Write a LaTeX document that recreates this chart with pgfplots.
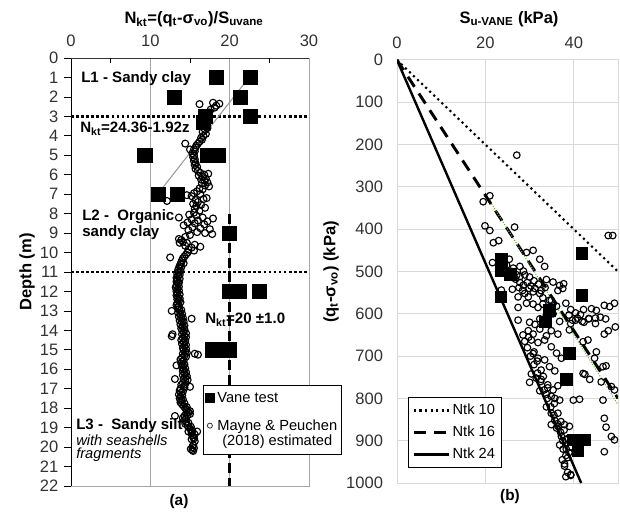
\documentclass[border=0pt]{standalone}
\usepackage{fontspec}
\setmainfont{Liberation Sans}
\usepackage{pgfplots}
\pgfplotsset{compat=1.18}

\definecolor{tickgray}{RGB}{50,50,50}
\definecolor{gridgray}{RGB}{217,217,217}
\definecolor{trendgreen}{RGB}{112,173,71}
\newcommand{\fs}[1]{\fontsize{#1}{#1}\selectfont}

\begin{document}
\begin{tikzpicture}
\useasboundingbox (0,0) rectangle (465pt,385.5pt);

% ---------------- (a) Nkt vs depth ----------------
\begin{axis}[
  scale only axis, at={(53.25pt,21pt)}, anchor=south west,
  width=178.5pt, height=321pt,
  xmin=0, xmax=30, ymin=0, ymax=22, y dir=reverse,
  xtick={0,10,20,30}, ytick={0,1,...,22},
  xticklabel pos=upper, ytick pos=left,
  xmajorgrids, major grid style={gray!70, line width=0.6pt},
  tick align=outside, major tick length=5pt,
  xtick style={draw=none}, ytick style={black, line width=0.6pt},
  axis line style={gray!70, line width=0.6pt},
  tick label style={font=\fs{12.4}, text=tickgray},
  yticklabel style={xshift=-1pt},
  /pgf/number format/assume math mode=true,
  legend style={at={(axis cs:16.65,16.8)}, anchor=north west, draw=black,
    line width=0.6pt, font=\fs{11}, fill=white, inner xsep=1pt, inner ysep=3pt,
    row sep=8pt, cells={anchor=west, align=center}},
]
% legend
\addlegendimage{legend image code/.code={\fill[black] (-2pt,-3.4pt) rectangle (4.8pt,3.4pt);}}
\addlegendentry{Vane test}
\addlegendimage{legend image code/.code={\draw[black!80, line width=0.6pt] (1.5pt,6pt) circle (1.9pt);}}
\addlegendentry{Mayne \& Peuchen\\(2018) estimated}

% layer boundaries and trend lines
\addplot[forget plot, black, line width=2.2pt, dash pattern=on 2pt off 1.8pt] coordinates {(0,3) (30,3)};
\addplot[forget plot, black, line width=2.2pt, dash pattern=on 2pt off 1.8pt] coordinates {(0,11) (30,11)};
\addplot[forget plot, black, line width=2pt, dash pattern=on 7.5pt off 3.5pt] coordinates {(20,8) (20,22)};
\addplot[forget plot, gray!80, line width=0.8pt] coordinates {(22.06,1.2) (10.92,7)};

% Mayne & Peuchen (2018) estimated
\addplot[forget plot, only marks, mark=o, mark size=2.6pt, black, mark options={line width=0.85pt}] coordinates {
(16.2,2.37) (17.9,2.30) (18.3,2.45) (18.7,2.35) (18.1,2.55) (17.6,2.65)
(17.4,2.8) (17.0,2.9) (17.3,3.0) (16.9,3.1) (17.1,3.2) (16.7,3.3) (17.0,3.4) (16.8,3.5)
(17.2,3.6) (16.9,3.7) (16.6,3.8) (17.0,3.9) (16.7,4.0) (16.4,4.1) (16.5,4.2) (14.4,4.4)
(16.2,4.3) (16.0,4.4) (15.8,4.5) (15.0,4.7) (15.7,4.6) (15.5,4.7) (15.6,4.8) (15.3,4.9)
(15.5,5.0) (15.4,5.1) (15.6,5.2) (15.5,5.3) (15.7,5.4) (15.6,5.5) (15.9,5.6) (15.7,5.7)
(16.0,5.8) (16.3,5.9) (17.3,5.95) (16.8,6.0) (16.1,6.05) (16.6,6.1) (17.0,6.2) (16.4,6.25)
(16.8,6.3) (17.2,6.4) (16.5,6.45) (16.9,6.55) (17.4,6.6) (16.2,6.7) (16.6,6.75) (15.9,6.85)
(15.5,6.95) (16.3,7.0) (14.6,7.05) (15.2,7.1) (17.1,7.2) (16.7,7.25) (15.7,7.3) (12.1,7.35)
(16.0,7.4) (15.4,7.5) (16.4,7.55) (15.8,7.6) (16.9,7.7) (15.6,7.75) (16.2,7.85) (15.5,7.95)
(14.9,8.05) (15.8,8.1) (13.6,8.2) (16.6,8.2) (17.9,8.25) (15.2,8.3) (16.0,8.35) (17.2,8.4)
(14.7,8.45) (15.6,8.5) (16.8,8.55) (14.2,8.6) (15.3,8.7) (16.3,8.75) (17.5,8.8) (14.8,8.85)
(15.9,8.95) (17.8,9.05) (16.9,9.0) (15.0,9.1) (14.4,9.2) (13.6,9.3) (13.9,9.35) (14.1,9.45)
(13.7,9.5) (14.6,9.5) (15.6,9.6) (14.4,9.65) (16.3,9.7) (15.2,9.75) (14.8,9.85) (15.5,9.9)
(14.7,10.0) (12.5,10.25) (14.5,10.1) (14.3,10.2) (14.1,10.3) (14.0,10.4)
(13.9,10.5) (13.8,10.6) (13.7,10.7) (13.6,10.8) (13.5,10.9) (13.6,11.0) (13.4,11.1) (13.5,11.2)
(13.3,11.3) (13.4,11.4) (13.3,11.5) (13.5,11.6) (13.3,11.7) (13.2,11.8) (13.4,11.9) (13.3,12.0)
(13.4,12.1) (13.3,12.2) (13.5,12.3) (13.4,12.4) (13.6,12.5) (13.4,12.6) (13.3,12.7) (13.5,12.8)
(13.6,12.9) (13.7,13.0) (13.5,13.1) (13.8,13.2) (13.6,13.3) (13.9,13.4) (13.7,13.5) (14.0,13.6)
(13.8,13.7) (14.1,13.8) (13.9,13.9) (14.0,14.0) (14.2,14.1) (14.0,14.2) (14.3,14.3) (14.1,14.4)
(13.9,14.5) (14.2,14.6) (14.0,14.7) (14.3,14.8) (14.1,14.9) (14.2,15.0) (14.4,15.1) (14.1,15.2)
(14.3,15.3) (14.0,15.4) (13.8,15.5) (14.0,15.6) (13.9,15.7) (14.1,15.8) (14.0,15.9) (14.2,16.0)
(14.1,16.1) (14.3,16.2) (14.1,16.3) (14.4,16.4) (14.2,16.5) (14.4,16.6) (14.1,16.7) (13.9,16.8)
(14.2,16.9) (13.8,17.0) (13.7,17.1) (13.9,17.2) (13.6,17.3) (13.8,17.4) (13.7,17.5) (13.9,17.6)
(13.8,17.7) (14.0,17.8) (14.2,17.9) (14.4,18.0) (14.6,18.1) (14.8,18.2) (14.5,18.3) (14.3,18.4)
(14.1,18.5) (14.3,18.6) (14.5,18.7) (14.4,18.8) (14.7,18.9) (14.9,19.0) (15.1,19.1) (14.8,19.2)
(15.2,19.3) (15.3,19.4) (15.4,19.5) (15.2,19.6) (15.4,19.9) (15.3,20.0) (15.1,20.1) (15.3,20.15)
(14.2,10.55) (13.9,10.75) (13.8,10.95) (13.7,11.15) (13.7,11.35) (13.6,11.55) (13.6,11.75)
(13.6,11.95) (13.7,12.15) (13.7,12.35) (13.8,12.55) (13.6,12.75) (13.9,12.95) (14.0,13.15)
(14.1,13.35) (14.2,13.55) (14.3,13.75) (14.3,13.95) (14.5,14.15) (14.5,14.35) (14.4,14.55)
(14.5,14.75) (14.5,14.95) (14.6,15.15) (14.5,15.35) (14.2,15.55) (14.3,15.75) (14.4,15.95)
(14.5,16.15) (14.6,16.35) (14.7,16.55) (14.4,16.75) (14.3,16.95) (14.1,17.15) (14.0,17.35)
(14.1,17.55) (14.3,17.75) (14.6,17.95) (15.0,18.15) (14.7,18.35) (14.5,18.55) (14.8,18.75)
(15.1,18.95) (15.3,19.15) (15.6,19.35) (15.5,19.55)
(12.7,13.0) (12.7,14.3) (15.2,13.4) (13.3,15.8) (13.1,16.5) (15.6,15.2) (16.0,15.25)
(15.0,16.9) (13.1,18.4) (15.0,18.3) (15.2,19.2) (15.9,19.2) (15.6,19.7) (15.5,20.05)
(15.4,20.2) (12.8,14.2)
};

% Vane test
\addplot[forget plot, only marks, mark=square*, mark size=5.3pt, black] coordinates {
(18.3,1) (22.6,1) (13.05,2) (21.3,2) (16.9,3.0) (16.7,3.3) (22.6,3)
(9.3,5) (17.2,5) (18.5,5) (11.0,7) (13.4,7) (19.9,9)
(19.9,12) (21.2,12) (23.7,12) (17.8,15) (19.0,15) (19.9,15)
};

% frame: dark left and top lines, minor ticks on top
\draw[black, line width=0.7pt] (axis cs:0,0) -- (axis cs:0,22);
\draw[black!80, line width=0.7pt] (axis cs:0,0) -- (axis cs:30,0);
\draw[black, line width=0.6pt] (axis cs:5,0) -- ++(0,-4pt);
\draw[black, line width=0.6pt] (axis cs:15,0) -- ++(0,-4pt);
\draw[black, line width=0.6pt] (axis cs:25,0) -- ++(0,-4pt);
\end{axis}

% ---------------- (b) Su vs qt-svo ----------------
\begin{axis}[
  scale only axis, at={(297.75pt,23.25pt)}, anchor=south west,
  width=165.75pt, height=317.25pt,
  xmin=0, xmax=50, ymin=0, ymax=1000, y dir=reverse,
  xtick={0,20,40}, ytick={0,100,...,1000},
  xticklabel pos=upper,
  grid=major, grid style={gridgray, line width=0.75pt},
  axis line style={gridgray, line width=0.75pt}, tick style={draw=none},
  tick label style={font=\fs{12.4}, text=tickgray},
  xticklabel style={yshift=5pt}, yticklabel style={xshift=-7pt},
  /pgf/number format/assume math mode=true,
  /pgf/number format/1000 sep={},
  legend style={at={(axis cs:2.48,797)}, anchor=north west, draw=black,
    line width=0.6pt, font=\fs{11}, fill=white, inner xsep=3pt, inner ysep=3pt,
    row sep=3pt, cells={anchor=west}},
]
\addlegendimage{legend image code/.code={\draw[black, line width=1.6pt, dash pattern=on 1.6pt off 2.6pt] (0pt,0pt) -- (26pt,0pt);}}
\addlegendentry{Ntk 10}
\addlegendimage{legend image code/.code={\draw[black, line width=2.2pt, dash pattern=on 9pt off 6pt] (0pt,0pt) -- (26pt,0pt);}}
\addlegendentry{Ntk 16}
\addlegendimage{legend image code/.code={\draw[black, line width=1.8pt] (0pt,0pt) -- (26pt,0pt);}}
\addlegendentry{Ntk 24}

% Mayne & Peuchen estimated
\addplot[forget plot, only marks, mark=o, mark size=2.5pt, black, mark options={line width=0.85pt}] coordinates {
(19.5,335) (21.0,321) (27.1,225) (47.8,415) (48.8,415) (19.9,392) (21.0,403) (26.6,395)
(21.8,432) (23.0,427) (21.6,479) (29.3,455) (30.8,450) (32.3,471) (33.4,488) (25.4,471)
(26.3,492) (27.8,488) (28.6,499) (27.1,508) (27.8,512) (28.9,508) (30.0,513) (26.1,542)
(27.8,526) (28.6,532) (29.5,526) (30.3,534) (31.0,522) (32.0,530) (33.8,519) (35.3,525)
(36.8,533) (37.7,529) (27.4,560) (28.9,552) (29.7,560) (30.8,548) (32.3,552) (33.0,562)
(34.5,568) (36.4,545) (37.5,540) (27.4,585) (29.3,575) (30.8,577) (31.9,585) (33.0,577)
(34.9,568) (36.1,582) (38.2,575) (39.3,590) (40.4,598) (41.5,602) (42.2,590) (27.4,615)
(30.0,620) (31.2,625) (32.3,612) (33.8,603) (35.3,600) (36.8,618) (38.9,603) (39.7,615)
(40.8,610) (42.3,620) (43.4,612) (44.9,623) (44.0,588) (45.1,592) (46.9,580) (48.1,583)
(49.2,575) (47.2,612) (49.4,631) (29.7,640) (30.8,648) (32.3,636) (33.8,652) (34.9,640)
(36.4,648) (39.0,638) (39.3,623) (40.4,615) (41.9,618) (43.4,611) (44.9,610) (46.0,608)
(46.9,648) (47.8,640) (28.9,665) (30.4,662) (31.9,668) (33.4,662) (34.9,678) (36.1,693)
(37.2,705) (30.8,694) (31.9,705) (33.4,709) (34.5,725) (35.7,735) (42.1,666) (43.2,662)
(45.1,690) (44.7,705) (46.6,725) (47.3,723) (42.1,741) (42.5,743) (43.6,755) (46.2,761)
(48.5,772) (49.2,780) (30.4,742) (31.5,752) (32.6,755) (34.1,768) (35.3,780) (36.4,770)
(30.0,762) (32.3,782) (33.8,790) (35.7,800) (36.8,804) (39.9,804) (41.3,802) (46.6,804)
(33.8,820) (34.9,835) (35.7,852) (36.4,866) (34.9,862) (36.1,870) (37.9,862) (39.0,866)
(37.2,890) (38.2,898) (36.8,910) (37.6,920) (38.9,928) (38.2,935) (37.9,960) (38.6,975)
(39.3,980) (38.2,985) (39.3,982) (46.9,847) (47.3,868) (48.5,890) (49.2,898) (46.9,926)
(28.5,650) (29.5,680) (30.2,700) (31.0,720) (31.8,740) (32.5,760) (33.3,780) (34.0,800)
(34.8,820) (35.5,840) (36.3,860) (37.0,880) (37.5,900) (38.3,920) (38.6,940) (29.8,655)
(31.0,690) (31.7,712) (32.6,733) (33.1,748) (34.1,775) (34.9,795) (35.6,812) (36.4,835)
(37.1,855) (37.8,875) (38.6,895) (39.2,915) (37.4,945) (37.9,955)
(24.8,485) (25.9,500) (26.8,518) (27.6,538) (28.4,545) (29.9,540) (31.2,540) (32.6,545)
(33.5,538) (23.6,544)
};

% Ntk lines and trend
\addplot[forget plot, black, line width=1.6pt, dash pattern=on 1.6pt off 2.6pt] coordinates {(0,0) (50,500)};
\addplot[forget plot, black, line width=2.2pt, dash pattern=on 9pt off 6pt] coordinates {(0,0) (50,800)};
\addplot[forget plot, black, line width=1.8pt] coordinates {(0,0) (41.667,1000)};
\addplot[forget plot, trendgreen, line width=0.8pt, dash pattern=on 0.8pt off 1.2pt] coordinates {(21.4,340) (50,815)};

% Vane test
\addplot[forget plot, only marks, mark=square*, mark size=4.4pt, black] coordinates {
(23.6,470) (23.6,497) (25.6,506) (23.5,560) (41.8,457) (41.8,556) (34.5,591)
(33.6,619) (39.0,693) (38.3,754) (39.8,898) (42.3,898) (40.9,922)
};
\end{axis}

% ---------------- titles and annotations (pixel grid) ----------------
\begin{scope}[x=0.75pt, y=-0.75pt, yshift=385.5pt]
\node[font=\bfseries\fs{12.4}] at (194,19) {N\textsubscript{kt}=(q\textsubscript{t}-σ\textsubscript{vo})/S\textsubscript{uvane}};
\node[font=\bfseries\fs{12.4}] at (509,19) {S\textsubscript{u-VANE} (kPa)};
\node[font=\bfseries\fs{12.4}, rotate=90] at (27,272) {Depth (m)};
\node[font=\bfseries\fs{12.4}, rotate=90] at (331,272) {(q\textsubscript{t}-σ\textsubscript{vo}) (kPa)};
\node[font=\bfseries\fs{11.5}] at (179,502) {(a)};
\node[font=\bfseries\fs{11.5}] at (510,497) {(b)};

\begin{scope}[every node/.style={anchor=west, inner sep=0pt, font=\bfseries\fs{11.3}}]
\node at (81,79) {L1 - Sandy clay};
\node at (80,129) {N\textsubscript{kt}=24.36-1.92z};
\node at (82,217) {L2 -\ \ Organic};
\node at (82,233) {sandy clay};
\node at (205,320) {N\textsubscript{kt}=20 ±1.0};
\node at (76,426) {L3 -\ \ Sandy silt};
\node[font=\itshape\fs{11}] at (76,440) {with seashells};
\node[font=\itshape\fs{11}] at (76,455) {fragments};
\end{scope}
\end{scope}
\end{tikzpicture}
\end{document}
